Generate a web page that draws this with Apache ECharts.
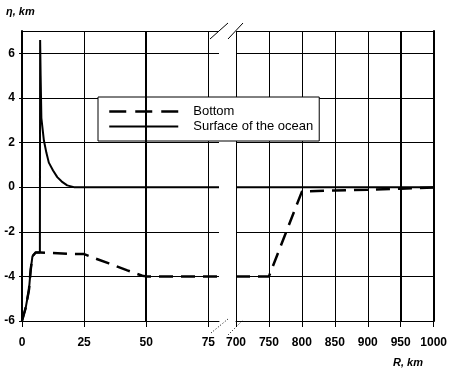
<!DOCTYPE html>
<html>
<head>
<meta charset="utf-8">
<script src="https://cdn.jsdelivr.net/npm/echarts@6/dist/echarts.min.js"></script>
<style>
  html, body { margin: 0; padding: 0; background: #fff; }
  #chart { width: 450px; height: 374px; }
</style>
</head>
<body>
<div id="chart"></div>
<script>
// near range, km
const nearR = [0, 1.5, 2.8, 3.5, 4.2, 5.5, 7.2, 7.3, 7.5, 7.8, 8.8, 9.8, 10.8, 12.5, 14.2, 16, 18.2, 20.9, 79.3];
const nearSurface = [-6, -5.4, -4.6, -3.7, -3.1, -2.93, -2.93, 6.6, 5.0, 3.1, 2.1, 1.55, 1.1, 0.75, 0.45, 0.25, 0.08, 0, 0];
const nearBottomR = [0, 1.5, 2.8, 3.5, 4.2, 5.5, 7.3, 11.4, 20.2, 25, 29.6, 35, 42.4, 48.4, 50, 79.3];
const nearBottom = [-6, -5.4, -4.6, -3.7, -3.1, -2.93, -2.93, -2.95, -3.0, -3.0, -3.2, -3.42, -3.73, -3.97, -4.0, -4.0];
// far range, km
const farR = [700, 750, 800, 850, 900, 950, 1000];
const farBottom = [-4, -4, -0.2, -0.15, -0.12, -0.07, -0.02];
const farSurfaceR = [700, 1000];
const farSurface = [0, 0];

const nearTicks = [0, 25, 50, 75];
const farTicks = [700, 750, 800, 850, 900, 950, 1000];
const yTicks = [-6, -4, -2, 0, 2, 4, 6];

const pairs = (xs, ys) => xs.map((x, i) => [x, ys[i]]);

const font = 'Arial, "Liberation Sans", sans-serif';
const black = '#000';
const dash = [14, 8];

const labelStyle = { color: black, fontFamily: font, fontWeight: 'bold', fontSize: 12 };

const chart = echarts.init(document.getElementById('chart'));

const xAxisBase = {
  type: 'value',
  axisLine: { show: true, onZero: false, lineStyle: { color: black, width: 1 } },
  axisTick: { show: true, length: 6, lineStyle: { color: black } },
  splitLine: { show: true, showMaxLine: false, lineStyle: { color: black, width: 1 } },
  axisLabel: Object.assign({ margin: 16, showMaxLabel: false, formatter: v => String(v) }, labelStyle)
};

const yAxisBase = {
  type: 'value',
  min: yTicks[0],
  max: 7,
  interval: 2,
  splitLine: { show: true, lineStyle: { color: black, width: 1 } }
};

const option = {
  animation: false,
  backgroundColor: '#fff',
  grid: [
    { left: 22, top: 31, width: 197, height: 290 },
    { left: 236, top: 31, width: 198, height: 290 }
  ],
  xAxis: [
    Object.assign({}, xAxisBase, {
      gridIndex: 0, min: nearTicks[0], max: 79.3, interval: 25
    }),
    Object.assign({}, xAxisBase, {
      gridIndex: 1, min: farTicks[0], max: farTicks[farTicks.length - 1], interval: 50,
      splitLine: { show: true, lineStyle: { color: black, width: 1 } },
      axisLabel: Object.assign({ margin: 16, formatter: v => String(v) }, labelStyle)
    })
  ],
  yAxis: [
    Object.assign({}, yAxisBase, {
      gridIndex: 0,
      name: 'η, km',
      nameLocation: 'end',
      nameGap: 14,
      nameTextStyle: { color: black, fontFamily: font, fontWeight: 'bold', fontStyle: 'italic', fontSize: 11, align: 'left', padding: [0, 0, 0, -16] },
      axisLine: { show: true, lineStyle: { color: black, width: 2 } },
      axisTick: { show: true, length: 3, lineStyle: { color: black } },
      axisLabel: Object.assign({ margin: 7, showMaxLabel: false }, labelStyle)
    }),
    Object.assign({}, yAxisBase, {
      gridIndex: 1,
      position: 'right',
      axisLine: { show: true, lineStyle: { color: black, width: 2 } },
      axisTick: { show: false },
      axisLabel: { show: false }
    })
  ],
  legend: {
    left: 98,
    top: 97,
    orient: 'vertical',
    backgroundColor: '#fff',
    borderColor: black,
    borderWidth: 1,
    padding: [8, 6, 8, 10],
    itemWidth: 69,
    itemHeight: 12,
    itemGap: 2,
    itemStyle: { opacity: 0 },
    textStyle: { color: black, fontFamily: font, fontSize: 13, padding: [0, 0, 0, 10] },
    data: [
      { name: 'Bottom', lineStyle: { type: [17, 9], width: 2.5 } },
      { name: 'Surface of the ocean' }
    ]
  },
  series: [
    {
      name: 'Bottom', type: 'line', xAxisIndex: 0, yAxisIndex: 0,
      symbol: 'none', color: black,
      lineStyle: { color: black, width: 2.5, type: dash },
      data: pairs(nearBottomR, nearBottom),
      markLine: {
        silent: true, symbol: 'none', label: { show: false },
        lineStyle: { color: black, width: 2, type: 'solid' },
        data: [{ xAxis: 50 }]
      }
    },
    {
      name: 'Surface of the ocean', type: 'line', xAxisIndex: 0, yAxisIndex: 0,
      symbol: 'none', color: black,
      lineStyle: { color: black, width: 2 },
      data: pairs(nearR, nearSurface)
    },
    {
      name: 'Bottom', type: 'line', xAxisIndex: 1, yAxisIndex: 1,
      symbol: 'none', color: black,
      lineStyle: { color: black, width: 2.5, type: dash },
      data: pairs(farR, farBottom),
      markLine: {
        silent: true, symbol: 'none', label: { show: false },
        lineStyle: { color: black, width: 2, type: 'solid' },
        data: [{ xAxis: 950 }]
      }
    },
    {
      name: 'Surface of the ocean', type: 'line', xAxisIndex: 1, yAxisIndex: 1,
      symbol: 'none', color: black,
      lineStyle: { color: black, width: 2 },
      data: pairs(farSurfaceR, farSurface)
    }
  ],
  graphic: [
    // axis break marks
    { type: 'line', shape: { x1: 210, y1: 39, x2: 228, y2: 23 }, style: { stroke: black, lineWidth: 1 } },
    { type: 'line', shape: { x1: 228, y1: 39, x2: 243, y2: 23 }, style: { stroke: black, lineWidth: 1 } },
    { type: 'line', shape: { x1: 211, y1: 333, x2: 228, y2: 319 }, style: { stroke: black, lineWidth: 1, lineDash: [1, 2] } },
    { type: 'line', shape: { x1: 228, y1: 335, x2: 243, y2: 320 }, style: { stroke: black, lineWidth: 1, lineDash: [1, 2] } },
    {
      type: 'text', left: 393, top: 357,
      style: { text: 'R, km', fill: black, font: 'italic bold 11px ' + font }
    }
  ]
};

chart.setOption(option);
</script>
</body>
</html>
